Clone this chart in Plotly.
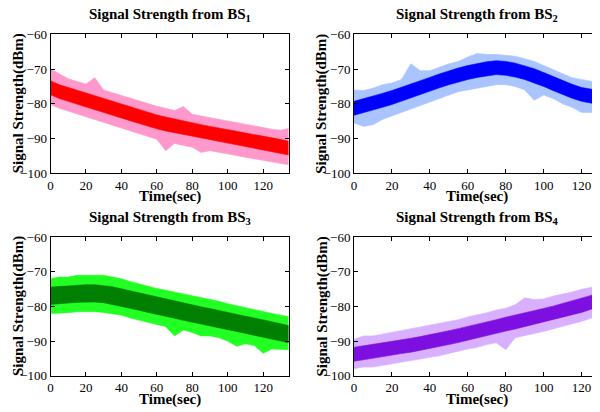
import plotly.graph_objects as go

time_s = [0, 5, 10, 15, 20, 25, 30, 35, 40, 45, 50, 55, 60, 65, 70, 75, 80, 85, 90, 95,
          100, 105, 110, 115, 120, 125, 130, 135]

# BS1: mean (dark band centre), noisy envelope upper / lower (dBm)
bs1_mean = [-75.4, -76.5, -77.3, -78.1, -78.8, -79.6, -80.6, -81.3, -82.1, -82.9, -83.7, -84.5, -85.2, -85.8,
            -86.4, -87.0, -87.5, -88.0, -88.5, -88.9, -89.4, -89.9, -90.4, -90.8, -91.3, -91.8, -92.3, -92.8]
bs1_hi = [-70.0, -71.5, -72.8, -73.6, -74.3, -72.5, -76.0, -76.8, -77.6, -78.3, -79.2, -80.0, -80.7, -81.3,
          -81.9, -80.8, -83.0, -83.5, -84.0, -84.4, -84.9, -85.4, -85.9, -86.3, -86.8, -87.3, -87.6, -87.0]
bs1_lo = [-80.2, -81.3, -82.2, -83.0, -83.8, -84.5, -85.5, -86.2, -87.0, -87.8, -88.6, -89.4, -90.2, -93.5,
          -91.4, -92.0, -92.5, -94.0, -93.5, -93.9, -94.4, -94.9, -95.4, -96.0, -96.3, -96.8, -97.2, -97.6]

# BS2
bs2_mean = [-81.3, -80.6, -79.8, -79.0, -78.2, -77.3, -76.3, -75.3, -74.4, -73.4, -72.5, -71.7, -71.0, -70.4,
            -69.9, -69.6, -69.8, -70.3, -71.0, -71.9, -73.0, -74.2, -75.4, -76.4, -77.3, -77.9, -78.3, -78.6]
bs2_hi = [-76.0, -76.2, -75.5, -74.5, -74.0, -73.0, -68.5, -70.5, -70.5, -69.5, -68.5, -67.8, -66.5, -65.5,
          -65.8, -65.8, -66.0, -66.3, -67.0, -67.8, -69.0, -70.2, -71.2, -72.5, -73.0, -73.5, -74.0, -74.5]
bs2_lo = [-85.5, -86.5, -86.0, -84.5, -83.5, -82.5, -81.5, -80.5, -79.5, -78.5, -77.5, -76.5, -76.0, -75.5,
          -75.0, -74.5, -74.5, -75.0, -76.0, -79.0, -77.5, -78.5, -80.0, -81.0, -82.5, -82.5, -82.5, -82.5]

# BS3
bs3_mean = [-76.9, -76.7, -76.5, -76.3, -76.2, -76.2, -76.4, -76.8, -77.4, -78.0, -78.6, -79.2, -79.8, -80.4,
            -80.9, -81.5, -82.0, -82.6, -83.1, -83.7, -84.2, -84.7, -85.3, -85.8, -86.3, -86.9, -87.5, -88.1]
bs3_hi = [-72.0, -71.5, -71.5, -71.0, -71.0, -71.0, -71.0, -71.5, -72.0, -72.8, -73.5, -74.0, -74.8, -75.3,
          -75.8, -76.5, -77.0, -77.5, -78.0, -78.5, -79.2, -79.8, -80.3, -80.8, -81.5, -82.0, -82.5, -83.0]
bs3_lo = [-82.0, -82.0, -81.8, -81.5, -81.5, -81.5, -81.7, -82.0, -82.5, -83.3, -84.0, -84.6, -85.2, -85.8,
          -88.5, -86.8, -87.5, -88.5, -88.5, -89.0, -90.0, -91.5, -90.8, -91.3, -93.5, -92.3, -92.5, -92.5]

# BS4
bs4_mean = [-93.8, -93.4, -93.0, -92.6, -92.1, -91.6, -91.2, -90.7, -90.2, -89.6, -89.0, -88.4, -87.8, -87.1,
            -86.4, -85.8, -85.1, -84.5, -83.9, -83.3, -82.6, -81.9, -81.1, -80.4, -79.7, -78.8, -77.8, -77.0]
bs4_hi = [-89.5, -88.5, -88.5, -88.0, -87.5, -87.0, -86.5, -86.0, -85.5, -85.0, -84.5, -83.8, -83.0, -82.5,
          -81.8, -81.0, -80.5, -79.5, -77.5, -78.0, -77.8, -77.0, -76.5, -75.8, -75.0, -74.5, -74.0, -73.5]
bs4_lo = [-98.0, -97.5, -97.5, -97.0, -96.5, -96.0, -95.7, -95.2, -94.7, -94.2, -93.5, -93.0, -92.3, -91.8,
          -91.0, -90.5, -92.5, -89.0, -88.5, -87.8, -87.2, -86.5, -85.8, -85.0, -84.3, -83.5, -82.5, -81.5]

# Half-width of the dense (filtered) band, dB
dark_halfwidth = [2.0, 2.0, 2.5, 2.0]

station_labels = ["1", "2", "3", "4"]
y_ticks = [-100, -90, -80, -70, -60]
x_ticks = [0, 20, 40, 60, 80, 100, 120]
x_title = "Time(sec)"
y_title = "Signal Strength(dBm)"

series = [
    (bs1_mean, bs1_hi, bs1_lo, "#FF99CC", "#FF0000"),
    (bs2_mean, bs2_hi, bs2_lo, "#A9C4FF", "#0000FF"),
    (bs3_mean, bs3_hi, bs3_lo, "#22FF22", "#007F00"),
    (bs4_mean, bs4_hi, bs4_lo, "#D8B0FF", "#7D10E0"),
]

OFF = 8  # page body margin
W, H = 600 - OFF, 412 - OFF
FONT = "Liberation Serif, Times New Roman, serif"


def px(xp):
    return (xp - OFF) / W


def py(yp):
    return 1 - (yp - OFF) / H


# panel pixel boxes (window coords): (x0, x1, ytop, ybottom, xmax)
panels = [
    (50.5, 288.5, 34.3, 173.3, 134.3),
    (354.0, 600.0, 34.3, 173.3, 129.7),
    (50.5, 288.5, 237.3, 375.7, 134.3),
    (354.0, 600.0, 237.3, 375.7, 129.7),
]

fig = go.Figure()
annotations = []
for i, ((mean, hi, lo, light, dark), (x0, x1, yt, yb, xmax)) in enumerate(zip(series, panels)):
    n = i + 1
    xa = "x" if n == 1 else f"x{n}"
    ya = "y" if n == 1 else f"y{n}"
    hw = dark_halfwidth[i]
    fig.add_trace(go.Scatter(
        x=time_s + time_s[::-1], y=hi + lo[::-1], fill="toself", fillcolor=light,
        line=dict(width=0.6, color=light), mode="lines", xaxis=xa, yaxis=ya,
        showlegend=False, hoverinfo="skip"))
    up = [m + hw for m in mean]
    dn = [m - hw for m in mean]
    fig.add_trace(go.Scatter(
        x=time_s + time_s[::-1], y=up + dn[::-1], fill="toself", fillcolor=dark,
        line=dict(width=0.6, color=dark), mode="lines", xaxis=xa, yaxis=ya,
        showlegend=False, hoverinfo="skip"))

    right = n in (2, 4)
    xdom = [px(x0), min(1.0, px(x1))]
    ydom = [py(yb), py(yt)]
    common = dict(showgrid=False, zeroline=False, showline=True, linecolor="black", linewidth=1,
                  ticks="inside", ticklen=4, tickcolor="black", automargin=False,
                  tickfont=dict(family=FONT, size=13, color="black"))
    fig.layout[f"xaxis{'' if n == 1 else n}"] = dict(
        domain=xdom, range=[0, xmax], tickvals=x_ticks, anchor=ya,
        mirror="allticks" if not right else "all", **common)
    fig.layout[f"yaxis{'' if n == 1 else n}"] = dict(
        domain=ydom, range=[-100, -60], tickvals=y_ticks, anchor=xa,
        mirror="ticks" if right else "allticks", **common)
    cx = px((x0 + x1) / 2)
    annotations.append(dict(
        text=f"<b>Signal Strength from BS<sub>{station_labels[i]}</sub></b>",
        x=cx, y=py(yt - 19), xref="paper", yref="paper", borderpad=0,
        xanchor="center", yanchor="middle", showarrow=False,
        font=dict(family=FONT, size=15, color="black")))
    annotations.append(dict(
        text=f"<b>{x_title}</b>", x=cx, y=py(yb + 23.5), xref="paper", yref="paper", borderpad=0,
        xanchor="center", yanchor="middle", showarrow=False,
        font=dict(family=FONT, size=15, color="black")))
    annotations.append(dict(
        text=f"<b>{y_title}</b>", x=px(x0 - 32), y=py((yt + yb) / 2), xref="paper", yref="paper",
        borderpad=0, xanchor="center", yanchor="middle", showarrow=False, textangle=-90,
        font=dict(family=FONT, size=15, color="black")))

fig.update_layout(
    template="none",
    width=W, height=H, margin=dict(l=0, r=0, t=0, b=0),
    paper_bgcolor="white", plot_bgcolor="white", annotations=annotations,
)
fig.write_html("out.html")
